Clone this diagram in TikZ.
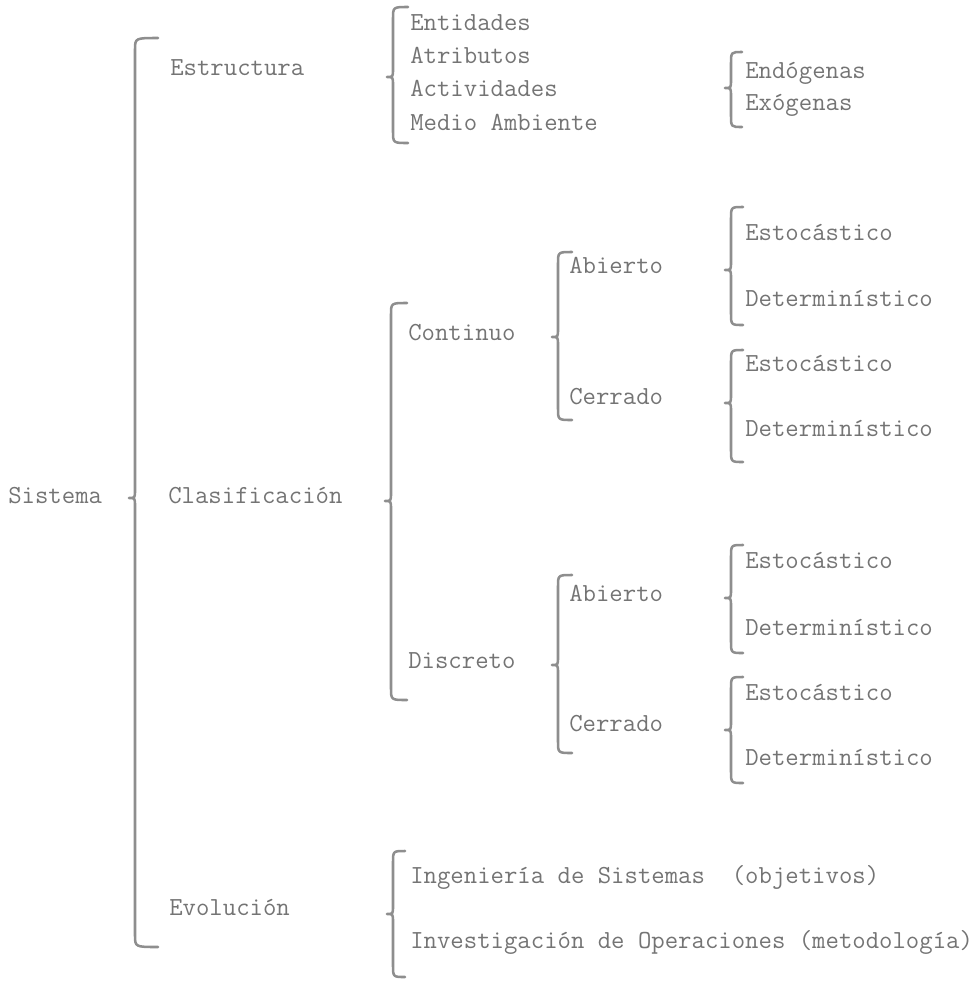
\documentclass[tikz,border=0pt]{standalone}
\usepackage{fontspec}
\usepackage{xcolor}
\usepackage{tikz}
\definecolor{tinta}{HTML}{747474}
\definecolor{trazo}{HTML}{8E8E8E}
% llave: x, arriba, punta, abajo, gancho
\newcommand{\llave}[5]{%
  \draw[llave] ({#1+#5},#2) .. controls (#1,#2) .. (#1,{#2+12})
    -- (#1,{#3-8}) .. controls (#1,#3) .. ({#1-6},#3)
    .. controls (#1,#3) .. (#1,{#3+8})
    -- (#1,{#4-12}) .. controls (#1,#4) .. ({#1+#5},#4);}

\begin{document}
\begin{tikzpicture}[x=0.025cm, y=-0.025cm,
    texto/.style={anchor=mid west, inner sep=0pt, text=tinta,
      font=\ttfamily\fontsize{18.5}{20}\selectfont},
    llave/.style={draw=trazo, line width=1.8pt, line cap=round, line join=round}]
  \useasboundingbox (0,0) rectangle (978,981);

  % nivel 1
  \node[texto] (sistema) at (8,500) {Sistema};
  \llave{135}{38}{498}{947}{23}

  % nivel 2
  \node[texto] (estructura)    at (170,72)  {Estructura};
  \node[texto] (clasificacion) at (168,500) {Clasificación};
  \node[texto] (evolucion)     at (169,912) {Evolución};

  % estructura
  \llave{393}{7}{77}{143}{15}
  \node[texto] (entidades)   at (410,27)  {Entidades};
  \node[texto] (atributos)   at (410,60)  {Atributos};
  \node[texto] (actividades) at (410,93)  {Actividades};
  \node[texto] (medio)       at (410,127) {Medio Ambiente};
  \llave{731}{52}{88}{127}{11}
  \node[texto] (endogenas) at (745,75)  {Endógenas};
  \node[texto] (exogenas)  at (745,107) {Exógenas};

  % clasificacion
  \llave{391}{303}{501}{700}{16}
  \node[texto] (continuo) at (408,337) {Continuo};
  \node[texto] (discreto) at (408,665) {Discreto};

  \llave{558}{252}{337}{420}{14}
  \node[texto] (c-abierto) at (569,270) {Abierto};
  \node[texto] (c-cerrado) at (569,401) {Cerrado};
  \llave{731}{207}{270}{325}{12}
  \node[texto] (ca-est) at (745,237) {Estocástico};
  \node[texto] (ca-det) at (745,303) {Determinístico};
  \llave{731}{350}{403}{462}{12}
  \node[texto] (cc-est) at (745,368) {Estocástico};
  \node[texto] (cc-det) at (745,433) {Determinístico};

  \llave{558}{575}{665}{753}{14}
  \node[texto] (d-abierto) at (569,598) {Abierto};
  \node[texto] (d-cerrado) at (569,728) {Cerrado};
  \llave{731}{545}{598}{653}{12}
  \node[texto] (da-est) at (745,565) {Estocástico};
  \node[texto] (da-det) at (745,632) {Determinístico};
  \llave{731}{677}{730}{783}{12}
  \node[texto] (dc-est) at (745,697) {Estocástico};
  \node[texto] (dc-det) at (745,762) {Determinístico};

  % evolucion
  \llave{393}{851}{914}{977}{12}
  \node[texto] (ingenieria)    at (410,880) {Ingeniería de Sistemas~~(objetivos)};
  \node[texto] (investigacion) at (410,945) {Investigación de Operaciones (metodología)};
\end{tikzpicture}
\end{document}
